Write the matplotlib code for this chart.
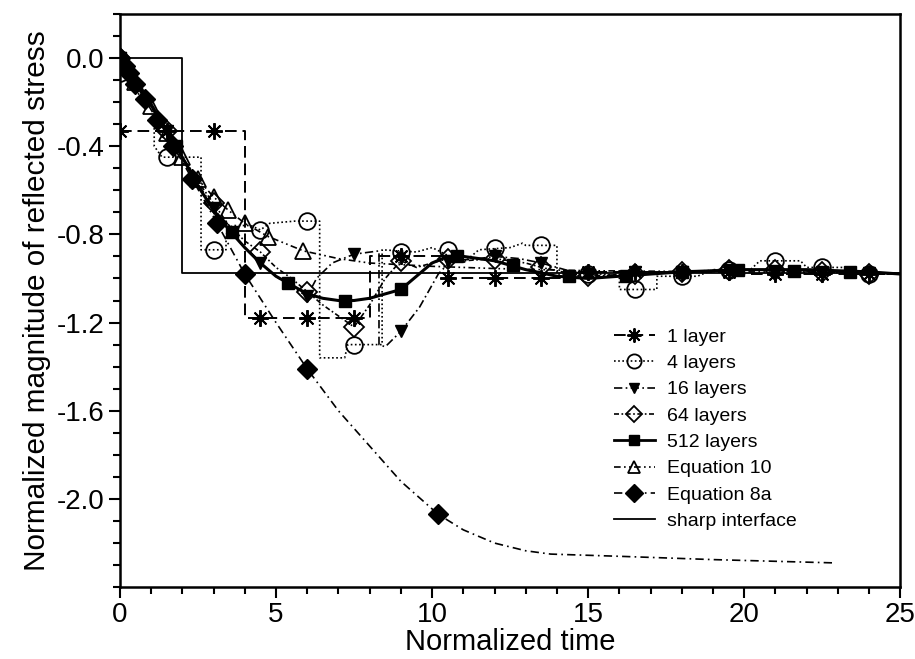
import numpy as np
import matplotlib
matplotlib.use("Agg")
import matplotlib.pyplot as plt
from matplotlib.lines import Line2D
from matplotlib.ticker import MultipleLocator, FixedLocator, FormatStrFormatter

plt.rcParams['font.family'] = ['Liberation Sans', 'DejaVu Sans']
plt.rcParams['axes.unicode_minus'] = False

# ---------------- data ----------------
sharp_t = [0, 2, 2, 25]
sharp_v = [0.0, 0.0, -0.975, -0.975]

# 1 layer: step function (start times, values)
l1_steps = [0, 4, 8, 10.5, 14.5, 20]
l1_vals = [-0.33, -1.18, -0.90, -1.00, -0.97, -0.98]
l1_mk_t = [0, 1.5, 3, 4.5, 6, 7.5, 9, 10.5, 12, 13.5, 15, 16.5, 18, 19.5, 21, 22.5, 24]

# 4 layers
l4_x = [0, 0.5, 0.5, 1.1, 1.1, 1.35, 2.6, 2.6, 3.4, 3.4, 3.6, 4.2, 4.5, 4.8, 5.6, 6.4, 6.4,
        7.2, 7.3, 8.4, 8.4, 9.5, 10.0, 11.0, 11.5, 12.5, 12.9, 13.0, 14.0, 14.0, 15.5, 16.0,
        16.0, 17.2, 17.2, 18.5, 19.0, 20.2, 20.5, 21.8, 22.0, 23.3, 23.5, 25]
l4_y = [-0.07, -0.12, -0.15, -0.23, -0.40, -0.45, -0.45, -0.87, -0.87, -0.80, -0.76, -0.76,
        -0.78, -0.75, -0.74, -0.74, -1.36, -1.36, -1.30, -1.30, -0.87, -0.88, -0.86, -0.93,
        -0.87, -0.86, -0.84, -0.85, -0.85, -0.98, -0.98, -0.99, -1.05, -1.05, -0.99, -0.99,
        -0.96, -0.96, -0.92, -0.92, -0.95, -0.95, -0.98, -0.98]
l4_mk_x = [0, 1.5, 3, 4.5, 6, 7.5, 9, 10.5, 12, 13.5, 15, 16.5, 18, 19.5, 21, 22.5, 24]
l4_mk_y = [-0.07, -0.45, -0.87, -0.78, -0.74, -1.30, -0.88, -0.87, -0.86, -0.85, -0.98,
           -1.05, -0.99, -0.96, -0.92, -0.95, -0.98]

# 16 layers
l16_x = [0, 0.5, 1, 1.5, 2, 2.5, 3, 3.5, 4, 4.5, 5, 5.5, 6, 6.3, 6.8, 7.5, 8.3, 8.3, 8.5,
         9.0, 9.6, 10.2, 10.6, 11.5, 12, 12.8, 13.5, 14.5, 15.5, 16.5, 18, 20, 22, 25]
l16_y = [0, -0.11, -0.22, -0.33, -0.45, -0.57, -0.68, -0.78, -0.86, -0.93, -0.99, -1.04,
         -1.08, -1.00, -0.93, -0.89, -0.875, -1.30, -1.31, -1.24, -1.13, -0.98, -0.92,
         -0.91, -0.90, -0.91, -0.93, -0.97, -0.99, -0.97, -0.97, -0.96, -0.97, -0.98]
l16_mk_x = [0, 1.5, 3, 4.5, 6, 7.5, 9, 10.5, 12, 13.5, 15, 16.5, 18, 19.5, 21, 22.5, 24]
l16_mk_y = [0, -0.33, -0.68, -0.93, -1.08, -0.89, -1.24, -0.92, -0.90, -0.93, -0.98,
            -0.97, -0.97, -0.96, -0.965, -0.97, -0.975]

# 64 layers
l64_x = [0, 0.5, 1, 1.5, 2, 2.5, 3, 3.5, 4, 4.5, 5, 5.5, 6, 6.5, 7, 7.5, 8, 8.5, 9, 9.5,
         10, 10.5, 11, 12, 13, 13.5, 14.5, 15, 16.5, 18, 19.5, 21, 22.5, 24, 25]
l64_y = [0, -0.11, -0.22, -0.33, -0.45, -0.56, -0.66, -0.76, -0.83, -0.88, -0.95, -1.00,
         -1.06, -1.12, -1.17, -1.22, -1.12, -1.00, -0.92, -0.95, -0.93, -0.91, -0.92,
         -0.91, -0.93, -0.95, -0.98, -0.99, -0.98, -0.97, -0.96, -0.96, -0.97, -0.98, -0.98]
l64_mk_x = [0, 1.5, 3, 4.5, 6, 7.5, 9, 10.5, 12, 13.5, 15, 16.5, 18, 19.5, 21, 22.5, 24]
l64_mk_y = [0, -0.33, -0.66, -0.88, -1.06, -1.22, -0.92, -0.91, -0.91, -0.95, -0.99,
            -0.98, -0.97, -0.96, -0.96, -0.97, -0.98]

# 512 layers
l512_x = [0, 0.5, 1, 1.5, 2, 2.5, 3, 3.5, 4, 4.5, 5, 5.5, 6, 6.5, 7, 7.5, 8, 8.5, 9, 9.5,
          10, 10.5, 11, 12, 13, 14, 15, 16, 18, 20, 22, 24, 25]
l512_y = [0, -0.10, -0.21, -0.33, -0.45, -0.58, -0.69, -0.78, -0.86, -0.93, -0.99, -1.03,
          -1.07, -1.09, -1.10, -1.10, -1.09, -1.07, -1.05, -0.99, -0.93, -0.90, -0.90,
          -0.92, -0.96, -0.99, -1.00, -0.99, -0.97, -0.96, -0.96, -0.97, -0.98]
l512_mk_x = [0, 1.8, 3.6, 5.4, 7.2, 9.0, 10.8, 12.6, 14.4, 16.2, 18.0, 19.8, 21.6, 23.4]
l512_mk_y = [0, -0.40, -0.79, -1.02, -1.10, -1.05, -0.90, -0.94, -0.99, -0.99, -0.97,
             -0.96, -0.965, -0.97]

# Equation 10
eq10_x = [0, 0.5, 1, 1.5, 2, 2.5, 3, 3.47, 4, 4.75, 5.88, 7, 8, 10, 12, 15, 20, 25]
eq10_y = [0, -0.11, -0.22, -0.34, -0.45, -0.55, -0.63, -0.69, -0.75, -0.81, -0.875,
          -0.91, -0.93, -0.945, -0.955, -0.965, -0.97, -0.975]
eq10_mk_x = [0, 0.5, 1, 1.5, 2, 2.5, 3, 3.47, 4, 4.75, 5.88]
eq10_mk_y = [0, -0.11, -0.22, -0.34, -0.45, -0.55, -0.63, -0.69, -0.75, -0.81, -0.875]

# Equation 8a
eq8_x = [0, 1, 2, 3, 4, 5, 6, 7, 8, 9, 10.2, 11, 12, 13, 13.8, 16, 19, 22.9]
eq8_y = [0, -0.235, -0.47, -0.72, -0.98, -1.20, -1.41, -1.60, -1.76, -1.92, -2.07,
         -2.14, -2.20, -2.235, -2.25, -2.26, -2.275, -2.29]
eq8_mk_x = [0, 0.15, 0.3, 0.5, 0.8, 1.2, 1.7, 2.3, 3.1, 4.0, 6.0, 10.2]
eq8_mk_y = [0, -0.035, -0.07, -0.117, -0.188, -0.28, -0.40, -0.55, -0.75, -0.98, -1.41, -2.07]

y_major = [0.0, -0.4, -0.8, -1.2, -1.6, -2.0]

# ---------------- styles ----------------
ls_1 = (0, (6, 3))
ls_4 = (0, (1, 1.5))
ls_16 = (0, (5, 2, 1, 2))
ls_64 = (0, (3, 1.5, 1, 1.5))
ls_eq10 = (0, (4, 2, 1, 2, 1, 2))
ls_eq8 = (0, (5, 2.5, 1, 2.5))

fig = plt.figure(figsize=(9.15, 6.59), dpi=100)
ax = fig.add_axes([0.131, 0.109, 0.853, 0.870])

lw = 1.2
k = 'black'
ax.plot(sharp_t, sharp_v, color=k, lw=1.3, zorder=2)

# 1 layer
l1_line_x, l1_line_y = [], []
for i, t in enumerate(l1_steps):
    t_end = l1_steps[i + 1] if i + 1 < len(l1_steps) else 25
    l1_line_x += [t, t_end]
    l1_line_y += [l1_vals[i], l1_vals[i]]
ax.plot(l1_line_x, l1_line_y, color=k, lw=1.4, linestyle=ls_1, zorder=3)
idx = np.searchsorted(l1_steps, l1_mk_t, side='right') - 1
l1_mk_y = [l1_vals[j] for j in idx]
m1 = dict(marker=(8, 2, 0), ms=12, mew=1.4, color=k)
ax.plot(l1_mk_t, l1_mk_y, linestyle='none', zorder=6, **m1)

m4 = dict(marker='o', ms=12, mew=1.3, mfc='none', mec=k, color=k)
ax.plot(l4_x, l4_y, color=k, lw=lw, linestyle=ls_4, zorder=3)
ax.plot(l4_mk_x, l4_mk_y, linestyle='none', zorder=6, **m4)

m16 = dict(marker='v', ms=9, mfc=k, mec=k, color=k)
ax.plot(l16_x, l16_y, color=k, lw=lw, linestyle=ls_16, zorder=3)
ax.plot(l16_mk_x, l16_mk_y, linestyle='none', zorder=6, **m16)

m64 = dict(marker='D', ms=10, mew=1.3, mfc='none', mec=k, color=k)
ax.plot(l64_x, l64_y, color=k, lw=lw, linestyle=ls_64, zorder=3)
ax.plot(l64_mk_x, l64_mk_y, linestyle='none', zorder=6, **m64)

m512 = dict(marker='s', ms=8, mfc=k, mec=k, color=k)
ax.plot(l512_x, l512_y, color=k, lw=2.2, zorder=4)
ax.plot(l512_mk_x, l512_mk_y, linestyle='none', zorder=6, **m512)

m10 = dict(marker='^', ms=11, mew=1.3, mfc='none', mec=k, color=k)
ax.plot(eq10_x, eq10_y, color=k, lw=lw, linestyle=ls_eq10, zorder=3)
ax.plot(eq10_mk_x, eq10_mk_y, linestyle='none', zorder=6, **m10)

m8 = dict(marker='D', ms=10.5, mfc=k, mec=k, color=k)
ax.plot(eq8_x, eq8_y, color=k, lw=lw, linestyle=ls_eq8, zorder=3)
ax.plot(eq8_mk_x, eq8_mk_y, linestyle='none', zorder=6, **m8)

# ---------------- axes ----------------
ax.set_xlim(0, 25)
ax.set_ylim(-2.4, 0.2)
ax.xaxis.set_major_locator(MultipleLocator(5))
ax.xaxis.set_minor_locator(MultipleLocator(1))
ax.yaxis.set_major_locator(FixedLocator(y_major))
ax.yaxis.set_minor_locator(MultipleLocator(0.1))
ax.yaxis.set_major_formatter(FormatStrFormatter('%.1f'))
ax.tick_params(which='both', direction='out', width=1.5, top=False, right=False,
               labelsize=20, colors=k)
ax.tick_params(which='major', length=8, pad=3)
ax.tick_params(which='minor', length=5)
for s in ax.spines.values():
    s.set_linewidth(1.8)

ax.set_xlabel('Normalized time', fontsize=21, labelpad=0)
ax.set_ylabel('Normalized magnitude of reflected stress', fontsize=21.4, labelpad=4)

handles = [
    Line2D([], [], lw=1.4, linestyle=ls_1, **m1),
    Line2D([], [], lw=lw, linestyle=ls_4, **m4),
    Line2D([], [], lw=lw, linestyle=ls_16, **m16),
    Line2D([], [], lw=lw, linestyle=ls_64, **m64),
    Line2D([], [], lw=2.0, linestyle='-', **m512),
    Line2D([], [], lw=lw, linestyle=ls_eq10, **m10),
    Line2D([], [], lw=lw, linestyle=ls_eq8, **m8),
    Line2D([], [], lw=1.3, color=k),
]
labels = ['1 layer', '4 layers', '16 layers', '64 layers', '512 layers',
          'Equation 10', 'Equation 8a', 'sharp interface']
ax.legend(handles, labels, loc='upper left', bbox_to_anchor=(0.633, 0.452),
          frameon=False, fontsize=14, handlelength=2.1, handletextpad=0.65,
          labelspacing=0.45, markerscale=0.85, borderpad=0, borderaxespad=0)

fig.savefig('out.png', dpi=100)
